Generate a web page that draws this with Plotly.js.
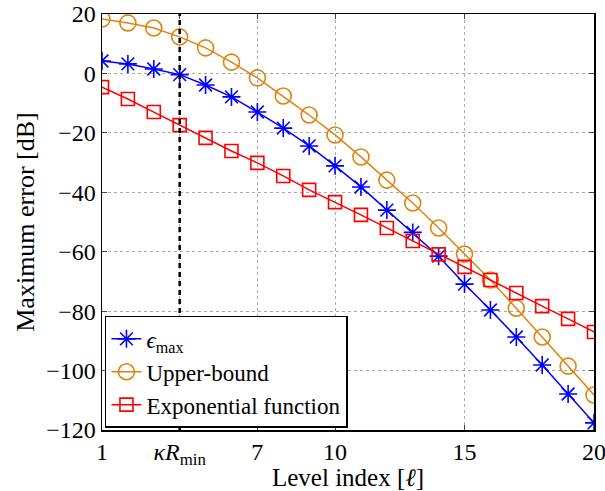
<!DOCTYPE html>
<html>
<head>
<meta charset="utf-8">
<script src="https://cdn.plot.ly/plotly-3.0.1.min.js"></script>
<style>html,body{margin:0;padding:0;background:#fff;}#chart{width:605px;height:491px;}</style>
</head>
<body>
<div id="chart"></div>
<script>
const levels = [1,2,3,4,5,6,7,8,9,10,11,12,13,14,15,16,17,18,19,20];
const epsMax = [4.2,3.2,1.5,-0.4,-3.9,-7.9,-13,-18.4,-24.4,-31.1,-38.2,-46,-53.5,-61.5,-70.9,-79.6,-88.7,-98.1,-107.9,-117.6];
const upperBound = [18.3,17,15.3,12.3,8.6,3.8,-1.5,-7.6,-14,-20.7,-28.1,-35.9,-43.6,-52,-60.8,-69.5,-79,-88.7,-98.5,-108.2];
const expFunc = [-4.6,-8.6,-13,-17.4,-21.7,-26.1,-30.1,-34.5,-39.2,-43.3,-47.6,-52,-56.4,-60.9,-65.1,-69.5,-73.9,-78.3,-82.6,-87];
const xTickVals = [1,4,7,10,15,20];
const xTickText = ['1','<i>κR</i><sub>min</sub>','7','10','15','20'];
const kRmin = 4;

const font = "'Liberation Serif', 'DejaVu Serif', serif";
const traces = [
  {x: levels, y: epsMax, name: '<i>ϵ</i><sub>max</sub>', mode: 'lines+markers', type: 'scatter',
   line: {color: '#0000ff', width: 1.5}, marker: {symbol: 'asterisk-open', size: 15, line: {color: '#0000ff', width: 1.6}}},
  {x: levels, y: upperBound, name: 'Upper-bound', mode: 'lines+markers', type: 'scatter',
   line: {color: '#df8411', width: 1.5}, marker: {symbol: 'circle-open', size: 16, color: '#df8411', line: {color: '#df8411', width: 1.6}}},
  {x: levels, y: expFunc, name: 'Exponential function', mode: 'lines+markers', type: 'scatter',
   line: {color: '#ff0000', width: 1.5}, marker: {symbol: 'square-open', size: 13, color: '#ff0000', line: {color: '#ff0000', width: 1.6}}}
];
const layout = {
  width: 605, height: 491,
  margin: {l: 102, r: 11, t: 14, b: 61},
  paper_bgcolor: '#fff', plot_bgcolor: '#fff',
  font: {family: font, size: 24, color: '#000'},
  showlegend: true,
  xaxis: {range: [1, 20], tickvals: xTickVals, ticktext: xTickText, ticks: 'inside', ticklen: 5,
    showline: true, mirror: 'ticks', linecolor: '#000', linewidth: 1.5, zeroline: false,
    showgrid: true, gridcolor: '#aaa', griddash: 'dot', gridwidth: 1, ticklabeloverflow: 'allow',
    title: {text: 'Level index [<i>ℓ</i>]', font: {family: font, size: 25}, standoff: 3},
    tickfont: {family: font, size: 24}},
  yaxis: {range: [-120, 20], dtick: 20, ticks: 'inside', ticklen: 5,
    showline: true, mirror: 'ticks', linecolor: '#000', linewidth: 1.5, zeroline: false,
    showgrid: true, gridcolor: '#aaa', griddash: 'dot', gridwidth: 1, ticklabeloverflow: 'allow',
    title: {text: 'Maximum error [dB]', font: {family: font, size: 26}, standoff: 4},
    tickfont: {family: font, size: 24}},
  shapes: [{type: 'line', xref: 'x', yref: 'paper', x0: kRmin, x1: kRmin, y0: 0, y1: 1,
    line: {color: '#000', width: 2.5, dash: '5px,4px'}}],
  legend: {x: 0.006, y: 0.005, xanchor: 'left', yanchor: 'bottom', bgcolor: '#fff',
    bordercolor: '#000', borderwidth: 1.5, font: {family: font, size: 23}, tracegroupgap: 0,
    itemwidth: 30}
};
Plotly.newPlot('chart', traces, layout, {displayModeBar: false, staticPlot: true});
</script>
</body>
</html>
